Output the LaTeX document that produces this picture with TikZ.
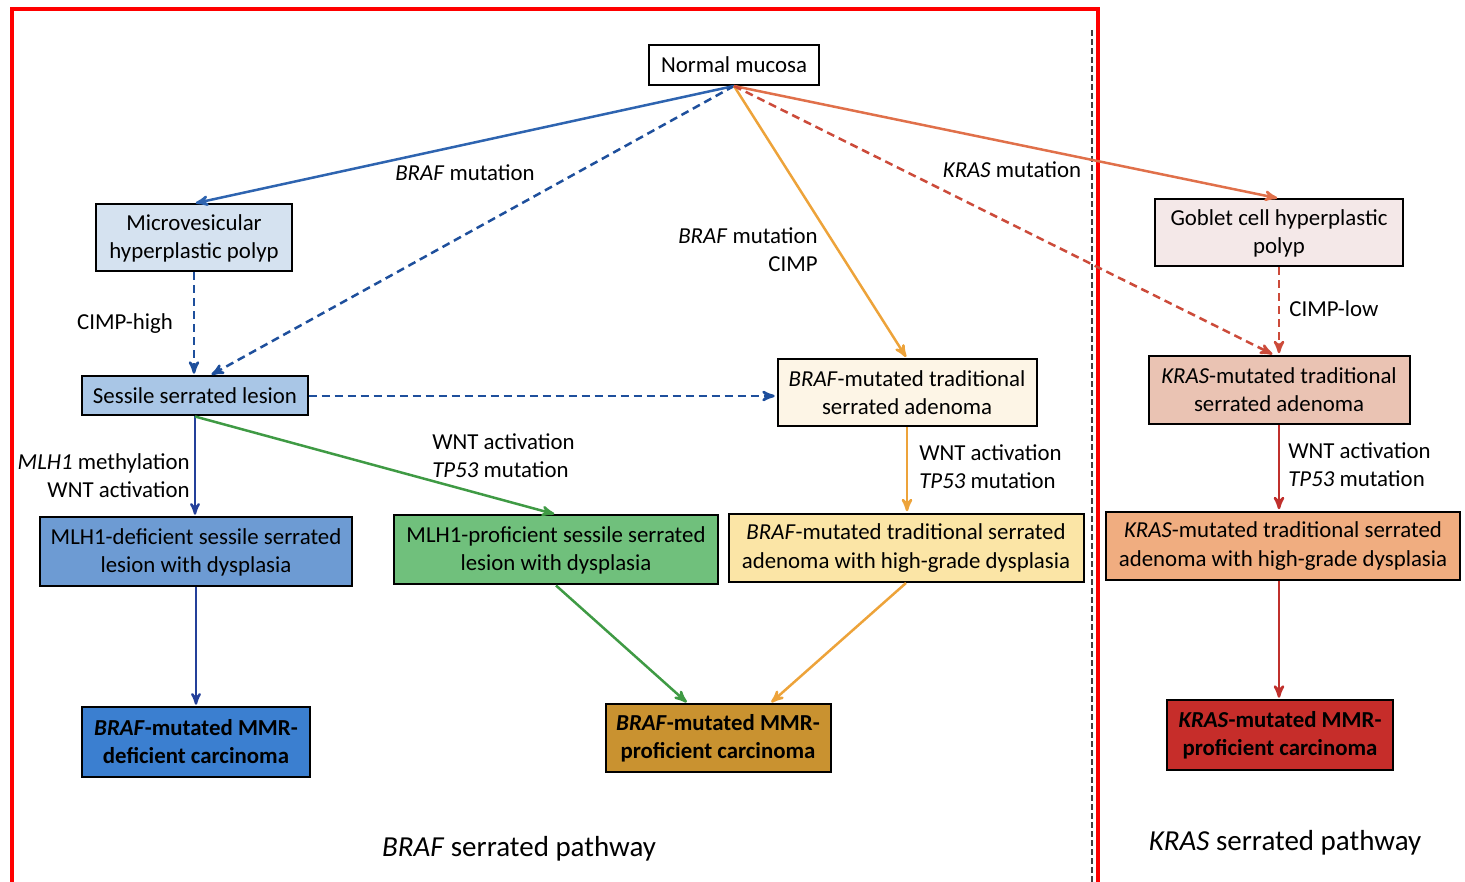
\documentclass[tikz,border=0pt]{standalone}
\usepackage{fontspec}
\setmainfont{Carlito}
\usepackage{tikz}
\usetikzlibrary{arrows}

\definecolor{bluesol}{HTML}{2E64B0}
\definecolor{bluedash}{HTML}{1E4F9C}
\definecolor{bluedark}{HTML}{24409A}
\definecolor{greenarr}{HTML}{3F9A44}
\definecolor{orangearr}{HTML}{EDA33A}
\definecolor{krasarr}{HTML}{E0704A}
\definecolor{krasdash}{HTML}{CC4B3A}
\definecolor{redarr}{HTML}{C0302C}

\definecolor{fMVHP}{HTML}{D5E2F0}
\definecolor{fSSL}{HTML}{A9C6E6}
\definecolor{fMD}{HTML}{6D9BD3}
\definecolor{fBMd}{HTML}{3B7FD0}
\definecolor{fMP}{HTML}{70C07C}
\definecolor{fBT}{HTML}{FDF5E6}
\definecolor{fBH}{HTML}{FBE5A6}
\definecolor{fBMp}{HTML}{C99230}
\definecolor{fGC}{HTML}{F4E8E8}
\definecolor{fKT}{HTML}{EAC3B3}
\definecolor{fKH}{HTML}{F0AD80}
\definecolor{fKMp}{HTML}{C62D2A}

\begin{document}
\begin{tikzpicture}[x=0.2mm, y=-0.2mm, inner sep=0pt, font=\fontsize{13}{16}\selectfont]
    \tikzstyle{lsn}=[rectangle, draw=black, line width=0.4mm, align=center, text=black]
    \tikzstyle{lbl}=[align=center, text=black]
    \tikzstyle{Bsol}=[->, draw=bluesol, shorten >=1pt, >=stealth', line width=0.5mm]
    \tikzstyle{Bdash}=[->, draw=bluedash, shorten >=1pt, >=stealth', line width=0.5mm, dash pattern=on 1.6mm off 1mm]
    \tikzstyle{Bdk}=[->, draw=bluedark, shorten >=1pt, >=stealth', line width=0.45mm]
    \tikzstyle{Gr}=[->, draw=greenarr, shorten >=1pt, >=stealth', line width=0.5mm]
    \tikzstyle{Or}=[->, draw=orangearr, shorten >=1pt, >=stealth', line width=0.5mm]
    \tikzstyle{Kor}=[->, draw=krasarr, shorten >=1pt, >=stealth', line width=0.5mm]
    \tikzstyle{Kdash}=[->, draw=krasdash, shorten >=1pt, >=stealth', line width=0.5mm, dash pattern=on 1.6mm off 1mm]
    \tikzstyle{Kred}=[->, draw=redarr, shorten >=1pt, >=stealth', line width=0.5mm]

    \useasboundingbox (0,0) rectangle (1465,882);

    % frame and separator
    \draw[red, line width=0.8mm] (12,900) -- (12,9) -- (1098,9) -- (1098,900);
    \draw[black!75, line width=0.25mm, dash pattern=on 1.2mm off 0.6mm] (1092,30) -- (1092,882);

    % boxes
    \node[lsn, fill=white, minimum width=34mm, minimum height=8mm] (NM) at (734,65) {Normal mucosa};
    \node[lsn, fill=fMVHP, minimum width=39mm, minimum height=13.4mm] (MVHP) at (194,238) {Microvesicular\\hyperplastic polyp};
    \node[lsn, fill=fSSL, minimum width=45mm, minimum height=7.8mm] (SSL) at (195,396) {Sessile serrated lesion};
    \node[lsn, fill=fBT, minimum width=51.8mm, minimum height=13.4mm] (BTSA) at (907,393) {\textit{BRAF}-mutated traditional\\serrated adenoma};
    \node[lsn, fill=fGC, minimum width=49.6mm, minimum height=13.4mm] (GCHP) at (1279,233) {Goblet cell hyperplastic\\polyp};
    \node[lsn, fill=fKT, minimum width=52.2mm, minimum height=13.6mm] (KTSA) at (1279,390) {\textit{KRAS}-mutated traditional\\serrated adenoma};
    \node[lsn, fill=fMD, minimum width=62.2mm, minimum height=13.8mm] (MDSSL) at (196,552) {MLH1-deficient sessile serrated\\lesion with dysplasia};
    \node[lsn, fill=fMP, minimum width=64.8mm, minimum height=13.8mm] (MPSSL) at (556,550) {MLH1-proficient sessile serrated\\lesion with dysplasia};
    \node[lsn, fill=fBH, minimum width=71mm, minimum height=13.6mm] (BHGD) at (906,548) {\textit{BRAF}-mutated traditional serrated\\adenoma with high-grade dysplasia};
    \node[lsn, fill=fKH, minimum width=70.8mm, minimum height=13.6mm] (KHGD) at (1283,546) {\textit{KRAS}-mutated traditional serrated\\adenoma with high-grade dysplasia};
    \node[lsn, fill=fBMd, minimum width=45.4mm, minimum height=13.8mm, font=\fontsize{13}{16}\selectfont\bfseries] (BMMRd) at (196,742) {\textit{BRAF}-mutated MMR-\\deficient carcinoma};
    \node[lsn, fill=fBMp, minimum width=45mm, minimum height=13.4mm, font=\fontsize{13}{16}\selectfont\bfseries] (BMMRp) at (718,738) {\textit{BRAF}-mutated MMR-\\proficient carcinoma};
    \node[lsn, fill=fKMp, minimum width=45.2mm, minimum height=13.8mm, font=\fontsize{13}{16}\selectfont\bfseries] (KMMRp) at (1280,735) {\textit{KRAS}-mutated MMR-\\proficient carcinoma};

    % labels
    \node[lbl] (l1) at (465,173) {\textit{BRAF} mutation};
    \node[lbl, align=right, anchor=east] (l2) at (818,250) {\textit{BRAF} mutation\\CIMP};
    \node[lbl] (l3) at (1012,170) {\textit{KRAS} mutation};
    \node[lbl] (l4) at (125,324) {CIMP-high};
    \node[lbl, anchor=west] (l5) at (1289,309) {CIMP-low};
    \node[lbl, align=right, anchor=east] (l6) at (190,476) {\textit{MLH1} methylation\\WNT activation};
    \node[lbl, align=left, anchor=west] (l7) at (432,456) {WNT activation\\\textit{TP53} mutation};
    \node[lbl, align=left, anchor=west] (l8) at (919,467) {WNT activation\\\textit{TP53} mutation};
    \node[lbl, align=left, anchor=west] (l9) at (1288,465) {WNT activation\\\textit{TP53} mutation};
    \node[lbl, font=\fontsize{16.5}{20}\selectfont] (p1) at (519,849) {\textit{BRAF} serrated pathway};
    \node[lbl, font=\fontsize{16.5}{20}\selectfont] (p2) at (1285,843) {\textit{KRAS} serrated pathway};

    % connectors
    \draw[Bsol] (NM.south) to (MVHP.north);
    \draw[Bdash] (NM.south) to ([xshift=3mm] SSL.north);
    \draw[Bdash] (MVHP.south) to (MVHP.south |- SSL.north);
    \draw[Bdash] (SSL.east) to (SSL.east -| BTSA.west);
    \draw[Bdk] (SSL.south) to (SSL.south |- MDSSL.north);
    \draw[Gr] (SSL.south) to (MPSSL.north);
    \draw[Bdk] (MDSSL.south) to (MDSSL.south |- BMMRd.north);
    \draw[Gr] (MPSSL.south) to ([xshift=-6mm] BMMRp.north);
    \draw[Or] (NM.south) to (BTSA.north);
    \draw[Or] (BTSA.south) to (BTSA.south |- BHGD.north);
    \draw[Or] (BHGD.south) to ([xshift=10.4mm] BMMRp.north);
    \draw[Kor] (NM.south) to (GCHP.north);
    \draw[Kdash] (NM.south) to ([xshift=-1mm] KTSA.north);
    \draw[Kdash] (GCHP.south) to (GCHP.south |- KTSA.north);
    \draw[Kred] (KTSA.south) to (KTSA.south |- KHGD.north);
    \draw[Kred] (KTSA.south |- KHGD.south) to (KTSA.south |- KMMRp.north);
\end{tikzpicture}
\end{document}
